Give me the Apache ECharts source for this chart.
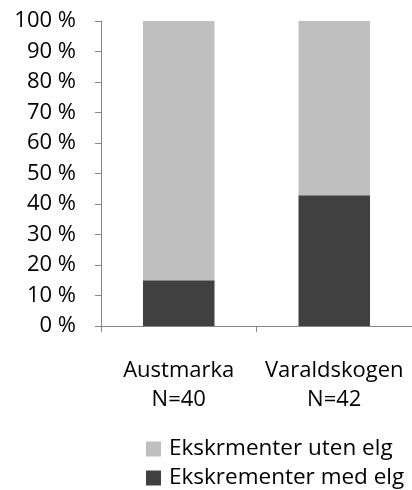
<!DOCTYPE html>
<html>
<head>
<meta charset="utf-8">
<script src="https://cdn.jsdelivr.net/npm/echarts@6/dist/echarts.min.js"></script>
<style>
  html, body { margin: 0; padding: 0; background: #fff; }
  #chart { width: 412px; height: 490px; }
</style>
</head>
<body>
<div id="chart"></div>
<script>
  // kategorier og verdier (prosent)
  var categories = ['Austmarka\nN=40', 'Varaldskogen\nN=42'];
  var medElg = [15, 42.9];
  var utenElg = [85, 57.1];
  var seriesNames = ['Ekskrementer med elg', 'Ekskrmenter uten elg'];

  var fontFam = '"Open Sans", "Noto Sans", sans-serif';
  var axisGrey = '#868686';

  var chart = echarts.init(document.getElementById('chart'));

  // en legende per rad, så de ikke brytes til kolonner
  function legendAt(top, name) {
    return {
      orient: 'vertical',
      left: 146,
      top: top,
      padding: 0,
      itemWidth: 15,
      itemHeight: 15,
      itemGap: 0,
      icon: 'rect',
      data: [name],
      textStyle: { fontSize: 22.5, lineHeight: 26, color: '#000', fontFamily: fontFam, padding: [0, 0, 0, 3] }
    };
  }

  var option = {
    animation: false,
    textStyle: { fontFamily: fontFam },
    grid: { left: 101, right: -3, top: 21, bottom: 164 },
    legend: [legendAt(436, seriesNames[1]), legendAt(465, seriesNames[0])],
    xAxis: {
      type: 'category',
      data: categories,
      axisLine: { lineStyle: { color: axisGrey } },
      axisTick: { show: true, length: 6, lineStyle: { color: axisGrey } },
      axisLabel: {
        interval: 0,
        color: '#000',
        fontSize: 22,
        lineHeight: 29,
        margin: 30,
        fontFamily: fontFam
      }
    },
    yAxis: {
      type: 'value',
      min: 0,
      max: 100,
      interval: 10,
      splitLine: { show: false },
      axisLine: { show: true, lineStyle: { color: axisGrey } },
      axisTick: { show: true, length: 6, lineStyle: { color: axisGrey } },
      axisLabel: {
        formatter: '{value} %',
        color: '#000',
        fontSize: 22,
        margin: 25,
        fontFamily: fontFam
      }
    },
    series: [
      {
        name: seriesNames[0],
        type: 'bar',
        stack: 'total',
        barWidth: '46%',
        itemStyle: { color: '#404040' },
        data: medElg
      },
      {
        name: seriesNames[1],
        type: 'bar',
        stack: 'total',
        barWidth: '46%',
        itemStyle: { color: '#bfbfbf' },
        data: utenElg
      }
    ]
  };

  chart.setOption(option);
</script>
</body>
</html>
